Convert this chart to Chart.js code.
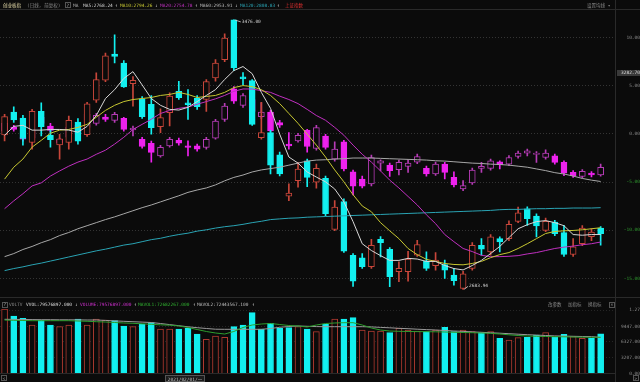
<!DOCTYPE html>
<html>
<head>
<meta charset="utf-8">
<script src="https://cdn.jsdelivr.net/npm/chart.js"></script>
<style>
html, body { margin: 0; padding: 0; background: #0b0b0b; width: 640px; height: 382px; overflow: hidden; }
#wrap { position: relative; width: 640px; height: 382px; font-family: "DejaVu Sans Mono", "Noto Sans CJK SC", monospace; }
.t { position: absolute; white-space: nowrap; font-size: 4.5px; line-height: 5px; color: #8a8a8a; }
.ln { position: absolute; background: #2a2a2a; }
.box { position: absolute; border: 1px solid #555; box-sizing: border-box; }
canvas { position: absolute; left: 0; }
</style>
</head>
<body>
<div id="wrap">
  <canvas id="main" width="640" height="298" style="top:0"></canvas>
  <canvas id="vol" width="640" height="84" style="top:298px"></canvas>

  <div class="ln" style="left:0;top:9px;width:640px;height:1px"></div>
  <div class="ln" style="left:0;top:297px;width:640px;height:1px"></div>
  <div class="ln" style="left:0;top:373px;width:615px;height:1px"></div>
  <div class="ln" style="left:615px;top:0;width:1px;height:382px"></div>

  <!-- main header -->
  <div class="t" style="left:3px;top:2.5px;color:#e6dcaa">创业板指</div>
  <div class="t" style="left:27px;top:2.5px">(日线, 前复权)</div>
  <div class="box" style="left:65px;top:2px;width:6px;height:6px"></div>
  <div class="t" style="left:66.5px;top:2.5px;color:#aaa">?</div>
  <div class="t" style="left:73px;top:2.5px;color:#aaa">MA</div>
  <div class="t" style="left:83px;top:2.5px;color:#d0d0d0">MA5:2768.24</div>
  <div class="t" style="left:115px;top:2.5px;color:#ccc">↑</div>
  <div class="t" style="left:120px;top:2.5px;color:#c8c832">MA10:2794.26</div>
  <div class="t" style="left:155px;top:2.5px;color:#ccc">↓</div>
  <div class="t" style="left:160px;top:2.5px;color:#c030c0">MA20:2754.78</div>
  <div class="t" style="left:195px;top:2.5px;color:#ccc">↑</div>
  <div class="t" style="left:200px;top:2.5px;color:#bbbbbb">MA60:2953.91</div>
  <div class="t" style="left:235px;top:2.5px;color:#ccc">↓</div>
  <div class="t" style="left:240px;top:2.5px;color:#2aa4b4">MA120:2808.83</div>
  <div class="t" style="left:277px;top:2.5px;color:#ccc">↑</div>
  <div class="t" style="left:285px;top:2.5px;color:#e03030">上证指数</div>
  <div class="t" style="left:587px;top:2.5px">设置均线 ▾</div>

  <!-- price marker -->
  <div class="t" style="left:617px;top:69.5px;width:23px;height:6px;background:#3a3a3a;color:#ddd;line-height:6px;text-align:right">3282.70</div>

  <!-- volume header -->
  <div class="box" style="left:2px;top:301.5px;width:6px;height:6px"></div>
  <div class="t" style="left:3.5px;top:302px;color:#aaa">?</div>
  <div class="t" style="left:9px;top:302px">VOLTV</div>
  <div class="t" style="left:26px;top:302px;color:#dcdcdc">VVOL:79576897.000</div>
  <div class="t" style="left:75px;top:302px;color:#ccc">↓</div>
  <div class="t" style="left:80px;top:302px;color:#d030d0">VOLUME:79576897.000</div>
  <div class="t" style="left:134px;top:302px;color:#ccc">↑</div>
  <div class="t" style="left:138px;top:302px;color:#30b030">MAVOL1:72682267.000</div>
  <div class="t" style="left:193px;top:302px;color:#ccc">↑</div>
  <div class="t" style="left:197px;top:302px;color:#bbbbbb">MAVOL2:72443567.100</div>
  <div class="t" style="left:252px;top:302px;color:#ccc">↑</div>
  <div class="t" style="left:548px;top:302px">改参数</div>
  <div class="t" style="left:568px;top:302px">加指标</div>
  <div class="t" style="left:588px;top:302px">换指标</div>
  <div class="box" style="left:609px;top:301.5px;width:6px;height:6px"></div>
  <div class="t" style="left:610.5px;top:302px">×</div>

  <!-- bottom axis extras -->
  <div class="box" style="left:1px;top:375px;width:6px;height:6px"></div>
  <div class="t" style="left:2.5px;top:375.5px">&lt;</div>
  <div class="box" style="left:633px;top:375px;width:6px;height:6px"></div>
  <div class="t" style="left:634.5px;top:375.5px">&gt;</div>
  <div class="t" style="left:165px;top:374.5px;width:40px;height:7px;line-height:7px;text-align:center;background:#1c1c1c;border:1px solid #555;box-sizing:border-box;color:#bbb">2021/02/01/一</div>
</div>

<script>
// trading days shown (创业板指 daily, forward-adjusted)
const dates = ['2021-01-06','2021-01-07','2021-01-08','2021-01-11','2021-01-12','2021-01-13','2021-01-14','2021-01-15','2021-01-18','2021-01-19',
  '2021-01-20','2021-01-21','2021-01-22','2021-01-25','2021-01-26','2021-01-27','2021-01-28','2021-01-29','2021-02-01','2021-02-02',
  '2021-02-03','2021-02-04','2021-02-05','2021-02-08','2021-02-09','2021-02-10','2021-02-18','2021-02-19','2021-02-22','2021-02-23',
  '2021-02-24','2021-02-25','2021-02-26','2021-03-01','2021-03-02','2021-03-03','2021-03-04','2021-03-05','2021-03-08','2021-03-09',
  '2021-03-10','2021-03-11','2021-03-12','2021-03-15','2021-03-16','2021-03-17','2021-03-18','2021-03-19','2021-03-22','2021-03-23',
  '2021-03-24','2021-03-25','2021-03-26','2021-03-29','2021-03-30','2021-03-31','2021-04-01','2021-04-02','2021-04-06','2021-04-07',
  '2021-04-08','2021-04-09','2021-04-12','2021-04-13','2021-04-14','2021-04-15'];

const open = [3137.8,3205.1,3187.5,3115.6,3207.1,3137.0,3108.6,3115.6,3175.8,3139.0,
  3240.1,3298.6,3375.8,3349.4,3288.9,3244.2,3227.6,3162.4,3203.3,3266.4,
  3232.5,3246.0,3242.2,3305.6,3359.1,3476.0,3308.5,3297.7,3130.2,3144.9,
  3079.4,2957.8,3003.4,3061.9,2998.7,3010.4,2860.2,2942.0,2784.2,2776.6,
  2750.3,2831.0,2801.7,2735.7,2735.7,2784.2,2766.7,2753.2,2757.0,2725.7,
  2686.9,2745.3,2813.4,2794.1,2833.0,2833.0,2883.6,2920.7,2899.4,2857.3,
  2881.8,2850.5,2786.2,2818.4,2838.9,2864.3];
const high = [3198.3,3220.8,3195.4,3213.0,3232.5,3152.5,3139.9,3193.4,3185.8,3233.4,
  3320.2,3378.7,3432.2,3356.2,3309.4,3251.0,3253.9,3215.0,3261.8,3295.7,
  3271.4,3253.9,3300.6,3359.1,3435.1,3476.0,3321.1,3300.6,3233.4,3151.6,
  3087.3,2993.8,3057.2,3066.8,3052.2,3017.1,2944.9,2949.9,2789.2,2789.2,
  2831.0,2838.9,2806.7,2764.9,2795.9,2828.0,2794.1,2792.1,2769.6,2745.3,
  2736.6,2821.3,2833.0,2844.7,2838.0,2885.6,2925.6,2926.5,2906.1,2893.5,
  2886.5,2871.9,2833.0,2871.0,2862.2,2868.1];
const low = [3120.3,3175.0,3107.7,3096.0,3134.9,3101.9,3066.8,3096.0,3110.7,3133.2,
  3233.4,3294.8,3349.4,3277.3,3222.6,3186.7,3139.9,3144.9,3164.1,3242.2,
  3183.7,3213.0,3207.1,3295.7,3353.2,3326.9,3286.0,3166.2,3125.3,3023.0,
  3017.1,2944.9,2984.1,2985.9,2981.2,2899.4,2856.4,2792.1,2692.7,2745.3,
  2745.3,2779.5,2691.8,2706.4,2708.2,2780.4,2739.5,2740.4,2716.1,2696.5,
  2683.94,2740.4,2784.2,2784.2,2794.1,2827.2,2879.8,2871.9,2838.0,2853.5,
  2841.8,2780.4,2780.4,2812.5,2827.2,2813.4];
const close = [3191.6,3181.7,3127.3,3207.1,3162.4,3123.8,3126.7,3180.8,3119.4,3229.6,
  3300.6,3370.8,3368.7,3279.3,3298.6,3191.6,3159.5,3188.7,3251.8,3247.2,
  3226.7,3220.8,3294.8,3349.4,3422.5,3334.8,3302.7,3169.1,3144.9,3049.3,
  3023.0,2966.6,3037.6,3013.3,3039.6,2906.1,2925.6,2795.9,2708.2,2750.3,
  2813.4,2821.3,2721.1,2745.3,2772.5,2815.5,2745.3,2769.6,2740.4,2709.4,
  2729.2,2813.4,2801.7,2838.0,2823.4,2874.8,2909.0,2891.5,2870.1,2883.6,
  2847.6,2786.2,2808.7,2864.3,2852.6,2847.6];

// moving averages of 创业板指
const ma5 = [3137,3163,3166,3152,3152,3154,3154,3152,3146,3163,3195,3245,3271,3304,3324,3285,3245,3225,3213,3211,
  3219,3236,3254,3271,3301,3327,3339,3318,3263,3216,3140,3073,3055,3029,3014,3000,2979,2941,2883,2818,
  2798,2783,2769,2769,2775,2773,2766,2766,2754,2745,2741,2754,2769,2789,2810,2836,2862,2874,2883,2886,
  2880,2871,2845,2843,2845,2845];
const ma10 = [3008,3043,3067,3102,3122,3143,3152,3154,3160,3169,3190,3210,3225,3236,3242,3245,3248,3254,3257,3263,
  3257,3248,3251,3254,3263,3277,3283,3280,3271,3254,3230,3201,3172,3140,3108,3073,3035,3000,2962,2929,
  2912,2880,2856,2833,2804,2786,2772,2766,2760,2757,2756,2760,2766,2777,2786,2792,2804,2818,2833,2848,
  2854,2856,2857,2859,2862,2865];
const ma20 = [2921,2944,2965,2988,2997,3017,3032,3046,3058,3067,3081,3093,3111,3131,3154,3169,3184,3201,3210,3216,
  3220,3228,3236,3244,3254,3266,3273,3273,3268,3263,3252,3242,3230,3213,3195,3181,3160,3137,3108,3081,
  3058,3032,3005,2982,2957,2932,2903,2877,2845,2824,2804,2795,2784,2780,2780,2781,2783,2788,2792,2798,
  2804,2808,2811,2815,2818,2823];
const ma60 = [2780,2789,2801,2810,2821,2830,2842,2851,2862,2871,2880,2889,2897,2906,2915,2924,2932,2941,2950,2959,
  2969,2976,2982,2991,3003,3013,3020,3029,3035,3039,3043,3049,3055,3061,3064,3065,3067,3068,3070,3070,
  3070,3069,3068,3067,3066,3065,3064,3062,3061,3059,3057,3055,3054,3052,3051,3049,3046,3043,3038,3033,
  3027,3023,3017,3010,3005,3001];
const ma120 = [2739,2745,2750,2756,2761,2767,2773,2779,2785,2791,2797,2802,2808,2814,2818,2824,2830,2834,2840,2845,
  2849,2855,2859,2864,2868,2871,2875,2880,2884,2889,2891,2893,2894,2896,2897,2898,2899,2900,2901,2902,
  2903,2904,2905,2906,2907,2908,2909,2910,2911,2912,2913,2914,2915,2916,2918,2919,2919,2920,2921,2921,
  2922,2922,2923,2923,2923,2924];

// 上证指数 overlay, % change on the shared percentage scale
const shOpen = [0.27,0.71,-0.38,-0.45,1.09,0.82,-0.56,-0.35,0.89,0.68,1.09,1.74,1.40,1.61,0.40,-0.56,-0.97,-2.28,-1.25,-0.66,
  -1.25,-1.25,-1.41,-0.45,1.51,4.67,2.95,3.57,1.79,2.26,1.17,-1.07,-0.73,0.37,-1.52,-0.22,-2.62,-0.84,-3.93,-4.69,
  -5.20,-3.03,-3.24,-3.73,-3.37,-2.93,-3.58,-4.17,-3.14,-4.51,-5.72,-5.10,-3.58,-3.58,-2.90,-3.14,-2.34,-2.00,-2.14,-2.45,
  -2.28,-2.96,-3.99,-4.43,-4.07,-4.27];
const shHigh = [1.30,0.89,-0.20,0.58,1.92,1.09,-0.45,0.89,0.99,2.23,2.13,2.02,2.23,1.71,0.82,-0.35,-0.76,-1.18,-0.35,-0.45,
  -0.73,-1.07,-0.35,1.51,3.16,4.91,4.19,3.78,3.23,2.44,1.40,0.13,0.06,0.47,0.89,-0.04,-0.84,-0.66,-3.76,-4.38,
  -2.21,-2.69,-3.03,-2.72,-2.69,-2.11,-3.34,-2.93,-2.96,-3.93,-4.86,-3.55,-2.96,-2.62,-2.80,-2.26,-1.80,-1.59,-1.85,-1.66,
  -2.11,-2.80,-3.81,-3.70,-3.91,-3.14];
const shLow = [0.06,0.27,-0.76,-0.56,0.99,0.17,-1.07,-0.45,-0.25,0.58,0.89,1.30,1.20,0.27,-0.22,-1.49,-2.93,-2.41,-1.38,-1.18,
  -2.28,-1.80,-1.59,-0.56,1.30,3.16,2.75,2.13,1.61,0.17,0.68,-1.59,-0.87,-1.90,-1.69,-1.59,-2.83,-3.86,-6.34,-5.61,
  -5.41,-3.83,-4.41,-4.27,-3.99,-3.09,-4.38,-4.32,-4.69,-5.51,-5.89,-5.25,-3.99,-3.76,-3.65,-3.29,-2.52,-2.28,-2.96,-2.62,
  -3.14,-4.34,-4.53,-4.58,-4.48,-4.38];
const shClose = [1.09,0.47,-0.56,0.37,1.71,0.37,-0.97,0.68,-0.04,2.02,1.92,1.51,2.02,0.47,0.61,-1.31,-1.93,-1.41,-0.56,-0.97,
  -1.41,-1.59,-0.56,1.33,2.88,3.40,3.98,2.33,2.26,0.30,0.89,-1.25,-0.14,-1.31,0.65,-1.41,-1.59,-3.65,-5.44,-5.44,
  -2.45,-2.80,-3.83,-2.96,-3.03,-2.36,-4.17,-3.14,-3.99,-5.30,-5.38,-3.76,-3.37,-2.80,-3.21,-2.45,-2.00,-1.76,-2.00,-2.00,
  -2.96,-4.07,-4.34,-3.89,-4.27,-3.48];

// volume in 万, with its two averages
const vol = [12964,11555,11092,9743,10749,9743,9401,9743,10951,9743,10951,10749,10609,9542,9401,9944,10206,8938,8938,8938,
  9079,7931,6864,7529,7267,9401,9743,12219,8938,10085,9079,9199,9401,8938,8394,9884,10951,10951,11212,8736,
  8535,8535,8193,9079,8736,8535,8394,8736,9280,8394,8736,8394,8193,8394,7066,6723,7186,7267,7730,8193,
  7267,7871,7388,7066,7066,7958];
const mavol1 = [10749,10689,10649,10609,10609,10609,10609,10609,10548,10488,10407,10347,10246,10146,10085,9984,9884,9783,9703,9542,
  9240,8837,8435,8133,7931,8435,9240,9743,9944,10045,9844,9642,9542,9340,9743,10045,10146,10206,10206,9743,
  9139,8736,8535,8475,8435,8414,8394,8374,8334,8273,8233,8193,8133,8072,7931,7770,7629,7529,7468,7428,
  7388,7368,7327,7287,7267,7268];
const mavol2 = [10890,10870,10850,10830,10810,10810,10790,10790,10770,10749,10749,10669,10568,10488,10407,10327,10246,10045,9824,9602,
  9381,9199,9039,8897,8877,8877,8877,8877,8877,9039,9280,9441,9542,9481,9421,9401,9401,9401,9401,9401,
  9361,9260,9179,9079,8998,8897,8817,8736,8636,8535,8455,8354,8273,8173,8092,7992,7891,7790,7710,7629,
  7549,7508,7468,7428,7408,7244];

const pctTicks = [-15, -10, -5, 0, 5, 10];
const volTicks = [0, 3207, 6327, 9447, 12700];

const labels = dates.concat(['']);
const BG = '#0b0b0b', RED = '#c8463a', CYAN = '#12f0f0', MAG = '#ee22ee', MAGLINE = '#b63cb6';
const TICKFONT = { family: 'DejaVu Sans Mono', size: 4.5 };

const up = close.map((c, i) => c >= open[i]);
const shUp = shClose.map((c, i) => c >= shOpen[i]);
const volUp = close.map((c, i) => i === 0 ? up[0] : c >= close[i - 1]);

function maLine(data, color) {
  return { type: 'line', data: data, borderColor: color, borderWidth: 1, pointRadius: 0, tension: 0, order: 0, yAxisID: 'y' };
}

const extremes = {
  id: 'extremes',
  afterDatasetsDraw(chart) {
    const { ctx, scales } = chart;
    let hi = 0, lo = 0;
    high.forEach((v, i) => { if (v > high[hi]) hi = i; });
    low.forEach((v, i) => { if (v < low[lo]) lo = i; });
    ctx.save();
    ctx.strokeStyle = '#d0d0d0';
    ctx.fillStyle = '#d0d0d0';
    ctx.lineWidth = 0.8;
    ctx.font = '4.5px "DejaVu Sans Mono"';
    ctx.textBaseline = 'middle';
    let px = scales.x.getPixelForValue(hi), py = scales.y.getPixelForValue(high[hi]);
    ctx.beginPath(); ctx.moveTo(px + 1, py); ctx.lineTo(px + 7, py + 2); ctx.stroke();
    ctx.fillText(high[hi].toFixed(2), px + 8, py + 2);
    px = scales.x.getPixelForValue(lo); py = scales.y.getPixelForValue(low[lo]);
    ctx.beginPath(); ctx.moveTo(px + 1, py); ctx.lineTo(px + 5, py - 3); ctx.stroke();
    ctx.fillText(low[lo].toFixed(2), px + 6, py - 3);
    ctx.restore();
  }
};

new Chart(document.getElementById('main'), {
  type: 'bar',
  data: {
    labels: labels,
    datasets: [
      maLine(ma5, '#d8d8d8'),
      maLine(ma10, '#c8c832'),
      maLine(ma20, '#c030c0'),
      maLine(ma60, '#a8a8a8'),
      maLine(ma120, '#2aa4b4'),
      {
        data: open.map((o, i) => [Math.min(o, close[i]), Math.max(o, close[i])]),
        yAxisID: 'y', grouped: false, order: 1, barThickness: 6, borderWidth: 1, borderSkipped: false,
        backgroundColor: up.map(u => u ? BG : CYAN), borderColor: up.map(u => u ? RED : CYAN)
      },
      {
        data: low.map((l, i) => [l, high[i]]),
        yAxisID: 'y', grouped: false, order: 2, barThickness: 1, borderWidth: 0,
        backgroundColor: up.map(u => u ? RED : CYAN)
      },
      {
        data: shOpen.map((o, i) => [Math.min(o, shClose[i]), Math.max(o, shClose[i])]),
        yAxisID: 'yp', grouped: false, order: 3, barThickness: 6, borderWidth: 1, borderSkipped: false,
        backgroundColor: shUp.map(u => u ? BG : MAG), borderColor: shUp.map(u => u ? MAGLINE : MAG)
      },
      {
        data: shLow.map((l, i) => [l, shHigh[i]]),
        yAxisID: 'yp', grouped: false, order: 4, barThickness: 1, borderWidth: 0,
        backgroundColor: shUp.map(u => u ? MAGLINE : MAG)
      }
    ]
  },
  options: {
    responsive: false,
    animation: false,
    devicePixelRatio: 1,
    layout: { padding: { top: 11, bottom: 2, left: 0, right: 0 } },
    plugins: { legend: { display: false }, tooltip: { enabled: false } },
    scales: {
      x: { display: false, offset: true },
      y: { display: false, min: 2669.3, max: 3502.3 },
      yp: {
        position: 'right', min: -16.656, max: 12.755,
        afterFit: s => { s.width = 25.6; },
        afterBuildTicks: s => { s.ticks = pctTicks.map(v => ({ value: v })); },
        grid: { color: '#343434', drawTicks: false },
        border: { display: false, dash: [1, 2] },
        ticks: {
          font: TICKFONT, padding: 1, crossAlign: 'far',
          color: c => c.tick && c.tick.value < 0 ? '#2f9a2f' : '#8a8a8a',
          callback: v => v.toFixed(2)
        }
      }
    }
  },
  plugins: [extremes]
});

new Chart(document.getElementById('vol'), {
  type: 'bar',
  data: {
    labels: labels,
    datasets: [
      { type: 'line', data: mavol1, borderColor: '#2e9e2e', borderWidth: 1, pointRadius: 0, tension: 0, order: 0 },
      { type: 'line', data: mavol2, borderColor: '#9a9a9a', borderWidth: 1, pointRadius: 0, tension: 0, order: 0 },
      {
        data: vol, grouped: false, order: 1, barThickness: 6, borderWidth: 1,
        backgroundColor: volUp.map(u => u ? BG : CYAN), borderColor: volUp.map(u => u ? '#b03a30' : CYAN)
      }
    ]
  },
  options: {
    responsive: false,
    animation: false,
    devicePixelRatio: 1,
    layout: { padding: { top: 11, bottom: 0, left: 0, right: 0 } },
    plugins: { legend: { display: false }, tooltip: { enabled: false } },
    scales: {
      x: {
        offset: true,
        grid: { display: false },
        border: { display: false },
        afterFit: s => { s.height = 8.6; },
        ticks: {
          font: TICKFONT, color: '#8a8a8a', padding: 1, autoSkip: false, maxRotation: 0, align: 'end',
          callback: (v, i) => {
            const d = labels[i], p = labels[i - 1];
            if (!d || !p) return '';
            const m = d.slice(5, 7);
            return m !== p.slice(5, 7) && m !== '02' ? m : '';
          }
        }
      },
      y: {
        position: 'right', min: 0, max: 12964,
        afterFit: s => { s.width = 25.6; },
        afterBuildTicks: s => { s.ticks = volTicks.map(v => ({ value: v })); },
        grid: { color: '#262626', drawTicks: false },
        border: { display: false, dash: [1, 2] },
        ticks: {
          font: TICKFONT, color: '#8a8a8a', padding: 1, crossAlign: 'far',
          callback: v => v >= 10000 ? (v / 10000).toFixed(2) : v.toFixed(2)
        }
      }
    }
  }
});
</script>
</body>
</html>
